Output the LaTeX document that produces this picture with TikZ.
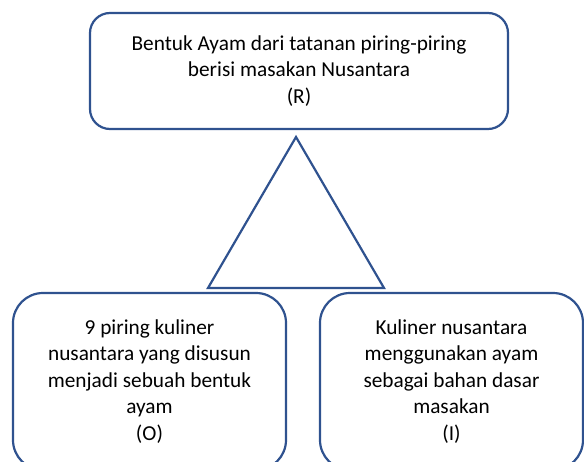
\documentclass[tikz,border=0pt]{standalone}
\usepackage{fontspec}
\setmainfont{Carlito}
\usetikzlibrary{positioning}

\definecolor{garis}{RGB}{47,82,143}
\tikzset{
    kotak/.style={draw=garis, line width=2.2pt, rounded corners=#1, align=center,
        font=\fontsize{21.3}{26.5}\selectfont, inner sep=0pt},
    kotak/.default=20pt
}

\begin{document}
\begin{tikzpicture}[x=1pt, y=-1pt]
        \useasboundingbox (0,0) rectangle (584,461);
        \node[kotak, minimum width=418pt, minimum height=116pt] (R) at (299,71)
                {Bentuk Ayam dari tatanan piring-piring\\berisi masakan Nusantara\\(R)};
        \node[kotak=30pt, minimum width=273pt, minimum height=177pt] (O) at (149.5,381.5)
                {9 piring kuliner\\nusantara yang disusun\\menjadi sebuah bentuk\\ayam\\(O)};
        \node[kotak=30pt, minimum width=263pt, minimum height=177pt] (I) at (451.5,381.5)
                {Kuliner nusantara\\menggunakan ayam\\sebagai bahan dasar\\masakan\\(I)};
        \coordinate (A) at (296,137);
        \coordinate (B) at (208,288);
        \coordinate (C) at (384,288);
        \draw[line width=2.2pt, garis, line join=miter] (A) -- (B) -- (C) -- cycle;
    \end{tikzpicture}
\end{document}
